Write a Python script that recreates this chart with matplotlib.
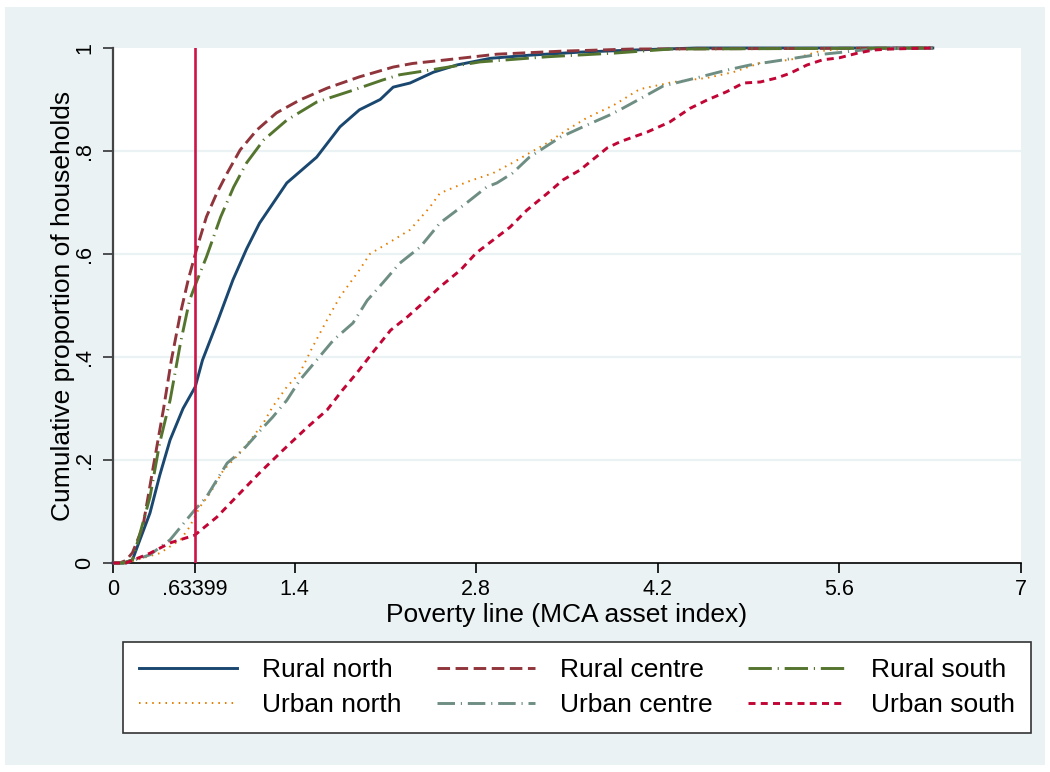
import matplotlib.pyplot as plt
from matplotlib.patches import Rectangle

plt.rcParams['font.family'] = ['Liberation Sans', 'DejaVu Sans']

# poverty line
pline = 0.63399

# rural north
rn_x = [0, 0.08, 0.15, 0.2, 0.285, 0.36, 0.44, 0.54, 0.634, 0.69, 0.81, 0.925, 1.03, 1.13, 1.34,
        1.57, 1.75, 1.90, 2.06, 2.16, 2.29, 2.47, 2.65, 2.91, 3.21, 3.6, 4.0, 4.5, 6.32]
rn_y = [0, 0, 0.006, 0.04, 0.097, 0.17, 0.239, 0.30, 0.342, 0.394, 0.472, 0.55, 0.61, 0.66, 0.738,
        0.788, 0.847, 0.88, 0.90, 0.924, 0.932, 0.953, 0.967, 0.98, 0.986, 0.992, 0.996, 1.0, 1.0]

# rural centre
rc_x = [0, 0.05, 0.1, 0.15, 0.23, 0.31, 0.39, 0.45, 0.52, 0.58, 0.65, 0.72, 0.80, 0.88, 0.98,
        1.11, 1.26, 1.44, 1.65, 1.90, 2.16, 2.31, 2.57, 2.96, 3.47, 4.0, 6.32]
rc_y = [0, 0, 0.005, 0.02, 0.07, 0.186, 0.30, 0.394, 0.485, 0.55, 0.614, 0.672, 0.718, 0.757, 0.802,
        0.841, 0.874, 0.899, 0.922, 0.944, 0.963, 0.97, 0.977, 0.988, 0.994, 0.998, 1.0]

# rural south
rs_x = [0, 0.08, 0.15, 0.2, 0.285, 0.36, 0.44, 0.52, 0.59, 0.65, 0.72, 0.83, 0.93, 1.03, 1.16,
        1.34, 1.57, 1.85, 2.08, 2.21, 2.44, 2.83, 3.35, 3.86, 4.3, 6.32]
rs_y = [0, 0, 0.006, 0.05, 0.128, 0.233, 0.316, 0.427, 0.51, 0.55, 0.594, 0.672, 0.73, 0.777, 0.821,
        0.86, 0.895, 0.918, 0.938, 0.948, 0.957, 0.973, 0.983, 0.99, 0.998, 1.0]

# urban north
un_x = [0, 0.1, 0.36, 0.52, 0.59, 0.67, 0.75, 0.85, 0.95, 1.06, 1.16, 1.23, 1.34, 1.44, 1.54,
        1.65, 1.75, 1.90, 1.98, 2.16, 2.29, 2.44, 2.52, 2.73, 2.93, 3.08, 3.21, 3.35, 3.50, 3.65,
        3.86, 4.06, 4.32, 4.58, 4.78, 4.99, 5.22, 5.45, 5.7, 6.32]
un_y = [0, 0, 0.019, 0.045, 0.07, 0.109, 0.136, 0.18, 0.206, 0.239, 0.272, 0.303, 0.342, 0.369, 0.42,
        0.472, 0.517, 0.569, 0.60, 0.627, 0.647, 0.69, 0.718, 0.74, 0.757, 0.777, 0.796, 0.816, 0.841, 0.864,
        0.889, 0.92, 0.934, 0.942, 0.953, 0.971, 0.977, 0.994, 1.0, 1.0]

# urban centre
uc_x = [0, 0.1, 0.285, 0.44, 0.63, 0.72, 0.88, 1.0, 1.16, 1.23, 1.34, 1.44, 1.57, 1.70, 1.85,
        1.96, 2.08, 2.21, 2.37, 2.52, 2.73, 2.88, 2.96, 3.08, 3.21, 3.45, 3.65, 3.83, 3.93, 4.09,
        4.24, 4.53, 4.73, 4.91, 5.17, 5.40, 5.63, 5.85, 6.32]
uc_y = [0, 0, 0.016, 0.045, 0.103, 0.128, 0.194, 0.219, 0.264, 0.283, 0.316, 0.355, 0.394, 0.433, 0.466,
        0.51, 0.544, 0.582, 0.614, 0.66, 0.70, 0.73, 0.738, 0.757, 0.788, 0.827, 0.85, 0.87, 0.883, 0.905,
        0.926, 0.944, 0.957, 0.967, 0.977, 0.986, 0.992, 0.998, 1.0]

# urban south
us_x = [0, 0.1, 0.285, 0.44, 0.63, 0.80, 0.98, 1.13, 1.31, 1.50, 1.65, 1.77, 1.88, 2.0, 2.14,
        2.27, 2.39, 2.52, 2.68, 2.80, 2.93, 3.06, 3.19, 3.35, 3.47, 3.6, 3.81, 3.91, 4.12, 4.29,
        4.45, 4.58, 4.73, 4.86, 4.99, 5.12, 5.22, 5.35, 5.47, 5.6, 5.74, 5.86, 5.99, 6.32]
us_y = [0, 0, 0.019, 0.039, 0.054, 0.089, 0.136, 0.175, 0.219, 0.264, 0.297, 0.336, 0.369, 0.408, 0.452,
        0.478, 0.505, 0.536, 0.569, 0.602, 0.627, 0.652, 0.685, 0.718, 0.744, 0.763, 0.806, 0.818, 0.837, 0.856,
        0.883, 0.899, 0.915, 0.932, 0.934, 0.942, 0.951, 0.967, 0.977, 0.981, 0.99, 0.996, 0.998, 1.0]

xticks = [0, pline, 1.4, 2.8, 4.2, 5.6, 7]
xticklabels = ['0', '.63399', '1.4', '2.8', '4.2', '5.6', '7']
yticks = [0, 0.2, 0.4, 0.6, 0.8, 1]
yticklabels = ['0', '.2', '.4', '.6', '.8', '1']

bg = '#EAF2F3'

fig = plt.figure(figsize=(10.5, 7.72), dpi=100, facecolor='white')
fig.patches.append(Rectangle((5 / 1050, 7 / 772), 1040 / 1050, 758 / 772,
                             transform=fig.transFigure, facecolor=bg, edgecolor='none', zorder=-5))

ax = fig.add_axes([113 / 1050, 1 - 563 / 772, 908 / 1050, 515 / 772])
ax.set_facecolor('white')

for g in [0.2, 0.4, 0.6, 0.8]:
    ax.axhline(g, color=bg, lw=1.6, zorder=1)

lw = 2.1
ax.plot(rn_x, rn_y, color='#1A476F', lw=lw, ls='-', label='Rural north', clip_on=False, zorder=3)
ax.plot(un_x, un_y, color='#E37E00', lw=1.4, ls=(0, (0.8, 2.6)), label='Urban north', clip_on=False, zorder=3)
ax.plot(rc_x, rc_y, color='#90353B', lw=lw, ls=(0, (4.3, 1.9)), label='Rural centre', clip_on=False, zorder=3)
ax.plot(uc_x, uc_y, color='#6E8E84', lw=lw, ls=(0, (6, 2, 0.4, 2)), label='Urban centre', clip_on=False, zorder=3)
ax.plot(rs_x, rs_y, color='#55752F', lw=lw, ls=(0, (8, 2, 0.4, 2)), label='Rural south', clip_on=False, zorder=3)
ax.plot(us_x, us_y, color='#C10534', lw=lw, ls=(0, (2.4, 1.8)), label='Urban south', clip_on=False, zorder=3)

ax.axvline(pline, color='#CC1447', lw=1.9, zorder=4)

ax.set_xlim(0, 7)
ax.set_ylim(0, 1)
ax.set_xticks(xticks)
ax.set_xticklabels(xticklabels, fontsize=15.5)
ax.set_yticks(yticks)
ax.set_yticklabels(yticklabels, fontsize=15.5, rotation=90, va='center')
ax.tick_params(axis='x', length=7.5, width=1.2, pad=4, color='black')
ax.tick_params(axis='y', length=7.5, width=1.2, pad=5.5, color='#333333')

for s in ['top', 'right']:
    ax.spines[s].set_visible(False)
ax.spines['left'].set_color('#444444')
ax.spines['left'].set_linewidth(1.6)
ax.spines['bottom'].set_color('black')
ax.spines['bottom'].set_linewidth(1.2)

ax.set_xlabel('Poverty line (MCA asset index)', fontsize=19)
ax.set_ylabel('Cumulative proportion of households', fontsize=19)
ax.xaxis.set_label_coords(0.5, -0.077)
ax.yaxis.set_label_coords(-0.042, 0.5)

leg = fig.legend(loc='upper left', bbox_to_anchor=(123 / 1050, 0, 908 / 1050, 1 - 642 / 772),
                 ncol=3, mode='expand', fontsize=19, frameon=True, fancybox=False,
                 facecolor='white', framealpha=1, edgecolor='#333333',
                 handlelength=3.7, handletextpad=0.95,
                 labelspacing=0.4, borderpad=0.62, borderaxespad=0)
leg.get_frame().set_linewidth(1.2)

fig.savefig('out.png', dpi=100, facecolor='white')
